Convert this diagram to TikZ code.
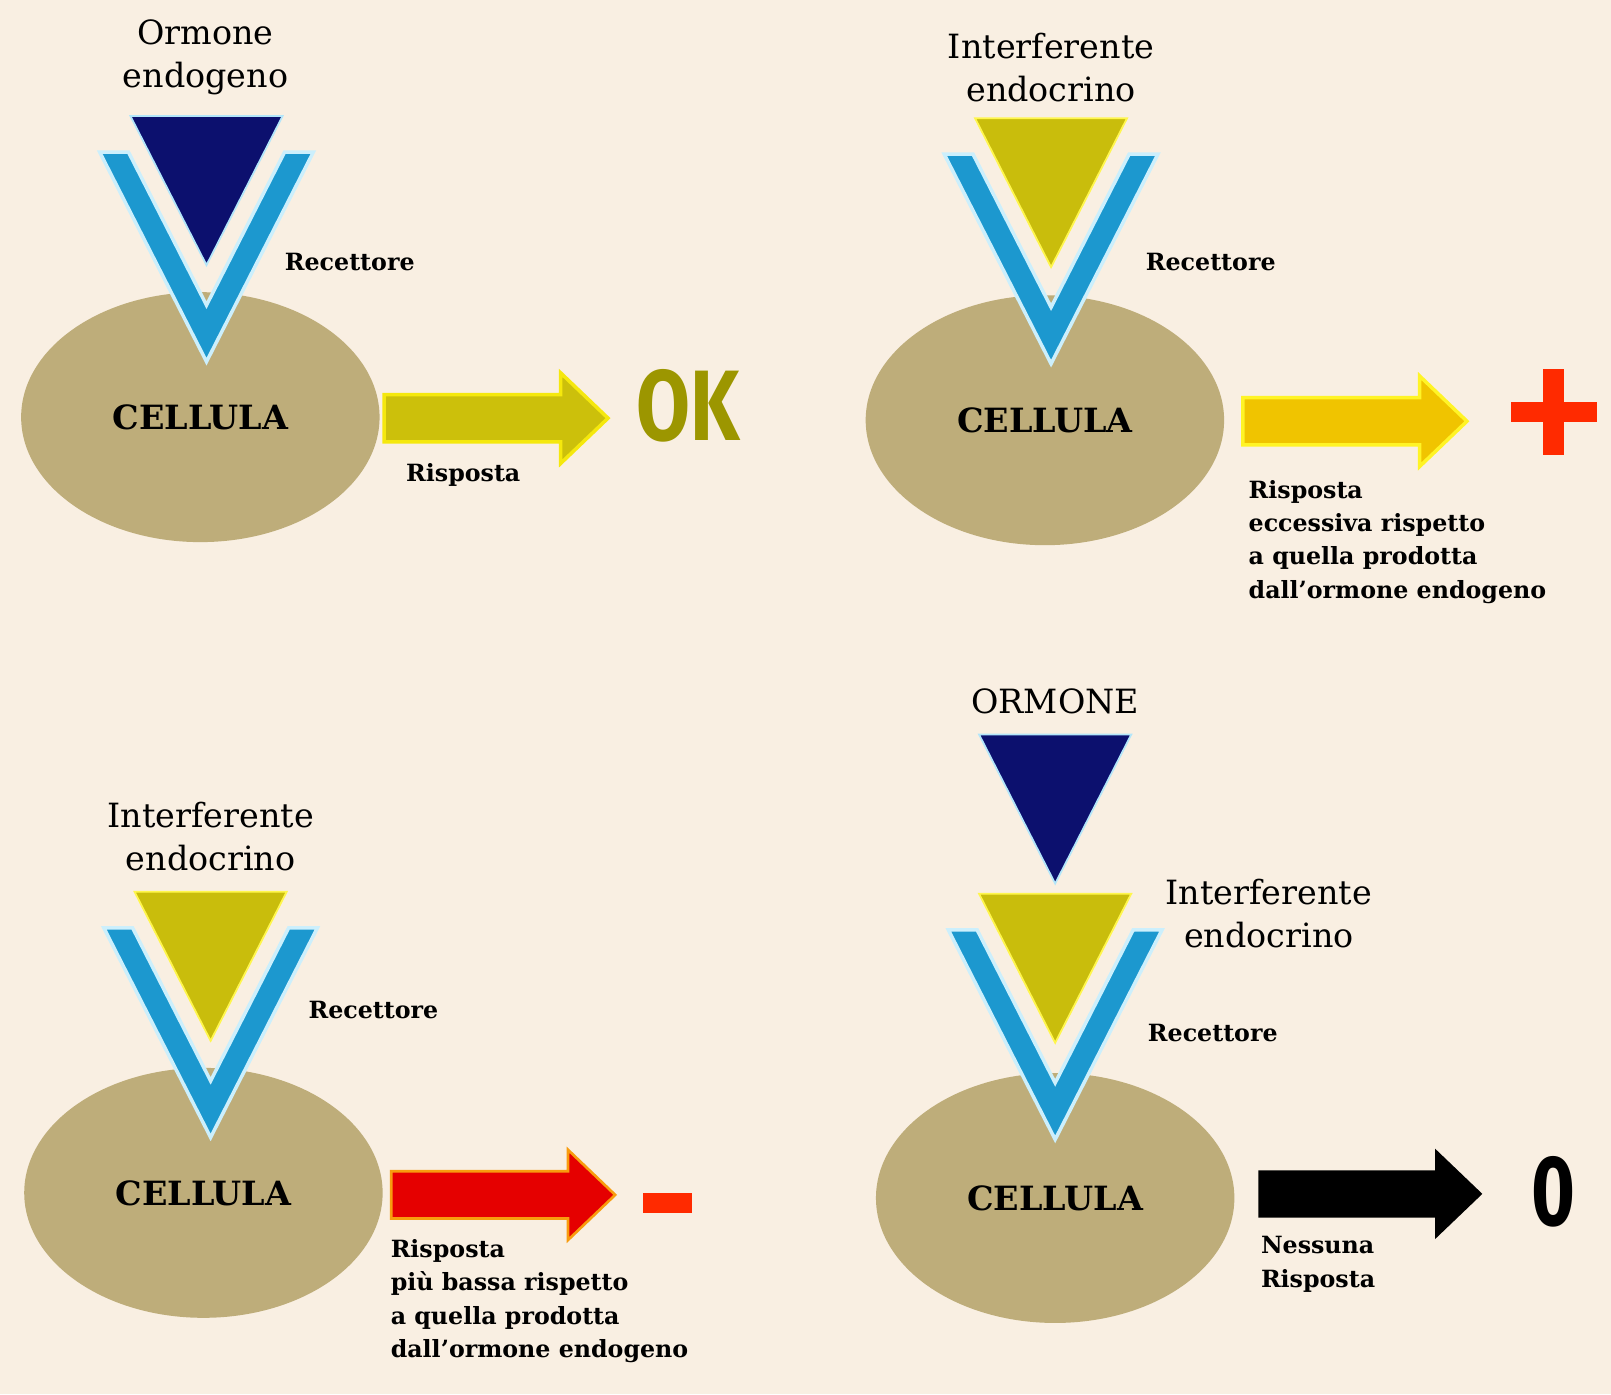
\documentclass[tikz,border=0pt]{standalone}
\usepackage{fontspec}
\usepackage{graphicx}
\setmainfont{DejaVu Serif}
\newfontfamily\esitofont{Fira Sans}
\usetikzlibrary{shapes.geometric}

\definecolor{sfondo}{HTML}{F9EFE2}
\definecolor{cellula}{HTML}{BEAD7A}
\definecolor{recblu}{HTML}{1C98CF}
\definecolor{ormblu}{HTML}{0C106E}
\definecolor{interf}{HTML}{C9BD0C}
\definecolor{okverde}{HTML}{9C9600}
\definecolor{rosso}{HTML}{FF2A00}
\definecolor{oro}{HTML}{F0C400}

\tikzset{
  pics/recettore/.style={code={
    \path[fill=recblu, draw=white!80!cyan, line width=2pt]
      (-104,0) -- (0,204) -- (104,0) -- (76,0) -- (0,149) -- (-76,0) -- cycle;
  }},
  pics/ormone/.style={code={
    \path[pic actions] (-74,0) -- (74,0) -- (0,145) -- cycle;
  }},
  pics/freccia/.style={code={
    \path[pic actions] (0,-23) -- (172,-23) -- (172,-44) -- (218,0)
      -- (172,44) -- (172,23) -- (0,23) -- cycle;
  }},
}

\begin{document}
\begin{tikzpicture}[x=0.02055cm, y=-0.02055cm,
    cell/.style={ellipse, fill=cellula, minimum width=7.17cm, minimum height=5cm,
      font=\fontsize{19}{22}\selectfont\bfseries},
    etichetta/.style={align=center, font=\fontsize{19}{24.5}\selectfont},
    piccolo/.style={anchor=west, inner sep=0pt, font=\fontsize{13.5}{19}\selectfont\bfseries},
    nota/.style={anchor=north west, inner sep=0pt, align=left, font=\fontsize{13.5}{19}\selectfont\bfseries},
    esito/.style={font=\esitofont\bfseries\fontsize{57}{60}\selectfont}]

  \fill[sfondo] (0,0) rectangle (1568,1357);
  \useasboundingbox (0,0) rectangle (1568,1357);

  % ormone endogeno: risposta normale
  \node[etichetta] (endo) at (200,56) {Ormone\\endogeno};
  \node[cell] (cellok) at (195,406) {CELLULA};
  \pic at (201,148) {recettore};
  \pic[fill=ormblu, draw=white!70!cyan, line width=1pt] at (201,113) {ormone};
  \node[piccolo] (recok) at (277,255) {Recettore};
  \path (cellok.east) ++(4,1) pic[fill=interf!95!yellow, draw=yellow!80!interf, line width=2pt] {freccia};
  \node[piccolo] (rispok) at (395,462) {Risposta};
  \node[esito, text=okverde] (ok) at (670,395) {\scalebox{0.78}[1]{OK}};

  % interferente: risposta eccessiva
  \node[etichetta] (interfpiu) at (1023,66) {Interferente\\endocrino};
  \node[cell] (cellpiu) at (1017,409) {CELLULA};
  \pic at (1023,150) {recettore};
  \pic[fill=interf, draw=yellow!70!white, line width=1pt] at (1023,115) {ormone};
  \node[piccolo] (recpiu) at (1115,255) {Recettore};
  \path (cellpiu.east) ++(18,1) pic[fill=oro, draw=yellow!85!white, line width=2pt] {freccia};
  \node[nota] (risppiu) at (1215,467) {Risposta\\eccessiva rispetto\\a quella prodotta\\dall'ormone endogeno};
  \fill[rosso] (1471,391) rectangle (1554,411);
  \fill[rosso] (1502,359) rectangle (1522,443);

  % interferente: risposta piu bassa
  \node[etichetta] (interfmeno) at (205,814) {Interferente\\endocrino};
  \node[cell] (cellmeno) at (198,1161) {CELLULA};
  \pic at (205,903) {recettore};
  \pic[fill=interf, draw=yellow!70!white, line width=1pt] at (205,868) {ormone};
  \node[piccolo] (recmeno) at (300,983) {Recettore};
  \path (cellmeno.east) ++(8,2) pic[fill=red!90!black, draw=yellow!60!red, line width=1.5pt] {freccia};
  \node[nota] (rispmeno) at (380,1206) {Risposta\\più bassa rispetto\\a quella prodotta\\dall'ormone endogeno};
  \fill[rosso] (626,1161) rectangle (674,1181);

  % ormone bloccato: nessuna risposta
  \node[etichetta] (ormzero) at (1027,683) {ORMONE};
  \node[cell] (cellzero) at (1027,1166) {CELLULA};
  \pic at (1027,905) {recettore};
  \pic[fill=ormblu, draw=white!70!cyan, line width=1pt] at (1027,715) {ormone};
  \pic[fill=interf, draw=yellow!70!white, line width=1pt] at (1027,870) {ormone};
  \node[etichetta] (interfzero) at (1235,889) {Interferente\\endocrino};
  \node[piccolo] (reczero) at (1117,1005) {Recettore};
  \path (cellzero.east) ++(23,-4) pic[fill=black] {freccia};
  \node[nota] (rispzero) at (1227,1203) {Nessuna\\Risposta};
  \node[esito] (zero) at (1512,1160) {\scalebox{0.75}[1]{0}};
\end{tikzpicture}
\end{document}
